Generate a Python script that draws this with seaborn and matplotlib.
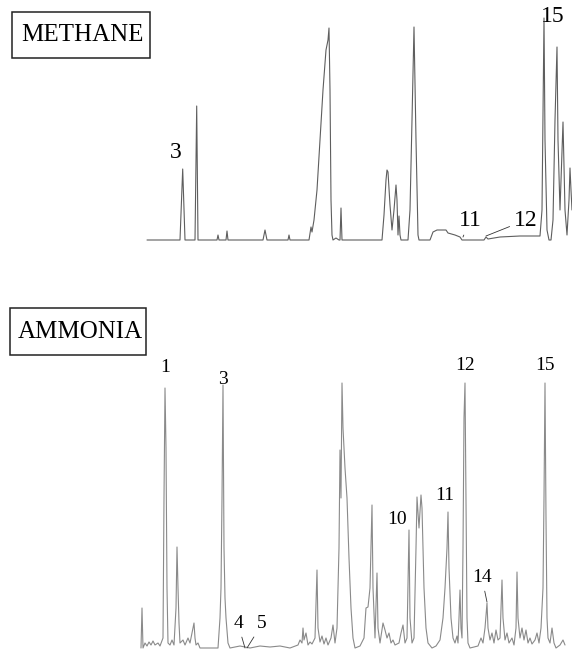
"""
Gas chromatograms of the same sample run with methane and ammonia
as reagent gas. Traces are digitised from the printed figure.
"""

import matplotlib.pyplot as plt
import pandas as pd
import seaborn as sns
from matplotlib.patches import Rectangle

# methane trace: retention position, detector signal (arbitrary units)
METHANE_T = [147, 180, 182.7, 185, 195, 196.7, 198, 217, 218, 219, 226, 227, 228,
             263, 265, 267, 288, 289, 290, 309, 311, 312, 314, 317, 320, 323, 326,
             328, 329, 330, 331, 332, 333, 336, 339, 340, 341, 342, 382, 384, 386,
             387, 388, 390, 392, 394, 396, 397, 398, 399, 400, 401, 408, 410, 412,
             414, 416, 418, 419, 430, 433, 437, 446, 448, 455, 460, 462, 484, 486,
             488, 500, 520, 540, 542, 544, 545, 547, 549, 551, 553, 555, 557, 558,
             560, 563, 565, 567, 569, 570, 571, 572]
METHANE_S = [0, 0, 71, 0, 0, 134, 0, 0, 5, 0, 0, 9, 0,
             0, 10, 0, 0, 5, 0, 0, 13, 8, 20, 50, 100, 150, 190,
             200, 212, 150, 40, 5, 0, 2, 0, 0, 32, 0, 0, 25, 60,
             70, 68, 35, 10, 30, 55, 40, 5, 24, 5, 0, 0, 30, 120,
             213, 100, 5, 0, 0, 8, 10, 10, 7, 5, 3, 0, 0, 3,
             1, 3, 4, 4, 30, 222, 100, 10, 0, 0, 20, 120, 193, 100,
             30, 118, 30, 5, 40, 72, 50, 30]

# ammonia trace
AMMONIA_T = [141, 142, 143, 145, 147, 149, 151, 153, 155, 158, 160, 163, 164, 165,
             166, 167, 168, 170, 172, 174, 176, 177, 178, 179, 180, 183, 185, 188,
             190, 192, 194, 195, 196, 198, 200, 218, 220, 221, 222, 223, 224, 225,
             226, 228, 230, 240, 250, 260, 270, 280, 290, 298, 300, 302, 303, 304,
             306, 308, 310, 312, 315, 317, 318, 320, 322, 324, 326, 328, 331, 333,
             335, 337, 339, 340, 341, 342, 343, 345, 347, 349, 351, 353, 355, 360,
             364, 366, 368, 370, 372, 373, 375, 377, 378, 380, 383, 385, 387, 389,
             391, 393, 395, 399, 401, 403, 405, 407, 409, 410, 412, 414, 416, 417,
             419, 421, 422, 424, 426, 428, 432, 436, 440, 443, 445, 447, 448, 449,
             451, 453, 455, 457, 458, 459, 460, 461, 462, 463, 464, 465, 466, 467,
             468, 470, 478, 481, 483, 485, 487, 488, 490, 492, 494, 496, 498, 500,
             502, 503, 505, 507, 509, 512, 514, 516, 517, 518, 520, 522, 524, 526,
             528, 530, 532, 535, 537, 539, 541, 543, 544, 545, 546, 547, 548, 550,
             552, 554, 556, 560, 563, 565]
AMMONIA_S = [0, 40, 0, 5, 2, 6, 3, 7, 3, 5, 2, 10, 150, 260,
             200, 60, 5, 3, 8, 3, 40, 101, 60, 25, 5, 8, 3, 10,
             5, 15, 25, 10, 3, 5, 0, 0, 30, 60, 150, 263, 100, 50,
             30, 5, 0, 2, 0, 2, 1, 2, 0, 3, 8, 5, 20, 8,
             15, 3, 6, 4, 10, 78, 20, 6, 12, 4, 10, 3, 10, 23,
             5, 20, 100, 198, 150, 265, 220, 180, 150, 90, 40, 10, 0, 2,
             10, 40, 41, 60, 143, 60, 10, 75, 20, 5, 25, 18, 10, 15,
             5, 8, 3, 5, 15, 23, 5, 10, 118, 30, 5, 10, 100, 151,
             120, 153, 140, 60, 20, 5, 0, 2, 8, 30, 60, 100, 136, 80,
             30, 10, 5, 12, 5, 30, 58, 20, 10, 100, 230, 265, 150, 30,
             5, 0, 2, 10, 5, 20, 45, 20, 8, 15, 5, 18, 8, 10,
             68, 30, 8, 15, 5, 10, 3, 20, 76, 30, 10, 20, 8, 18,
             5, 10, 4, 8, 15, 5, 20, 60, 150, 265, 130, 30, 10, 5,
             20, 5, 0, 3, 8, 3]

# peak labels, label signal, and leader tip (None = no leader)
METHANE_PEAKS = ["3", "11", "12", "15"]
METHANE_PEAK_T = [176, 470, 526, 553]
METHANE_PEAK_S = [88, 20, 20, 224]
METHANE_LEAD_T = [None, 463, 486, None]
METHANE_LEAD_S = [None, 3, 4, None]

AMMONIA_PEAKS = ["1", "3", "4", "5", "10", "11", "12", "14", "15"]
AMMONIA_PEAK_T = [165, 223, 238, 262, 397, 445, 465, 482, 545]
AMMONIA_PEAK_S = [280, 268, 24, 24, 129, 153, 282, 70, 282]
AMMONIA_LEAD_T = [None, None, 245, 247, None, None, None, 487, None]
AMMONIA_LEAD_S = [None, None, 0, 0, None, None, None, 46, None]

sns.set_theme(style="white")
plt.rcParams["font.family"] = ["Liberation Serif", "DejaVu Serif"]
plt.rcParams["text.color"] = "black"

W, H = 572, 653
fig = plt.figure(figsize=(W / 100, H / 100), dpi=100)
ax_m = fig.add_axes([0, 1 - 250 / H, 1, 250 / H])
ax_a = fig.add_axes([0, 0, 1, 300 / H])


def trace(ax, t, s, ylim, color):
    df = pd.DataFrame({"t": t, "s": s})
    sns.lineplot(data=df, x="t", y="s", ax=ax, color=color, lw=0.8,
                 estimator=None, sort=False)
    ax.set_xlim(0, W)
    ax.set_ylim(*ylim)
    ax.set_axis_off()


def peak_labels(ax, names, tt, ss, lt, ls, size):
    for name, t, s, t2, s2 in zip(names, tt, ss, lt, ls):
        if t2 is None:
            ax.text(t, s, name, ha="center", va="center", fontsize=size)
        else:
            ax.annotate(name, xy=(t2, s2), xytext=(t, s), ha="center",
                        va="center", fontsize=size,
                        arrowprops=dict(arrowstyle="-", lw=0.6, color="#333333",
                                        shrinkA=1, shrinkB=0))


def boxed_title(text, x0, y0, x1, y1, tx):
    # box edges given in pixels from the top-left corner
    fig.patches.append(Rectangle((x0 / W, 1 - y1 / H), (x1 - x0) / W,
                                 (y1 - y0) / H, transform=fig.transFigure,
                                 fill=False, ec="#222222", lw=1.1))
    fig.text(tx / W, 1 - (y0 + y1) / 2 / H, text, ha="center", va="center",
             fontsize=18)


trace(ax_m, METHANE_T, METHANE_S, (-10, 240), "#5e5e5e")
trace(ax_a, AMMONIA_T, AMMONIA_S, (-5, 295), "#8a8a8a")
peak_labels(ax_m, METHANE_PEAKS, METHANE_PEAK_T, METHANE_PEAK_S,
            METHANE_LEAD_T, METHANE_LEAD_S, 17)
peak_labels(ax_a, AMMONIA_PEAKS, AMMONIA_PEAK_T, AMMONIA_PEAK_S,
            AMMONIA_LEAD_T, AMMONIA_LEAD_S, 14)

boxed_title("METHANE", 12, 12, 150, 58, 82)
boxed_title("AMMONIA", 10, 308, 146, 355, 80)

fig.savefig("out.png", dpi=100)
